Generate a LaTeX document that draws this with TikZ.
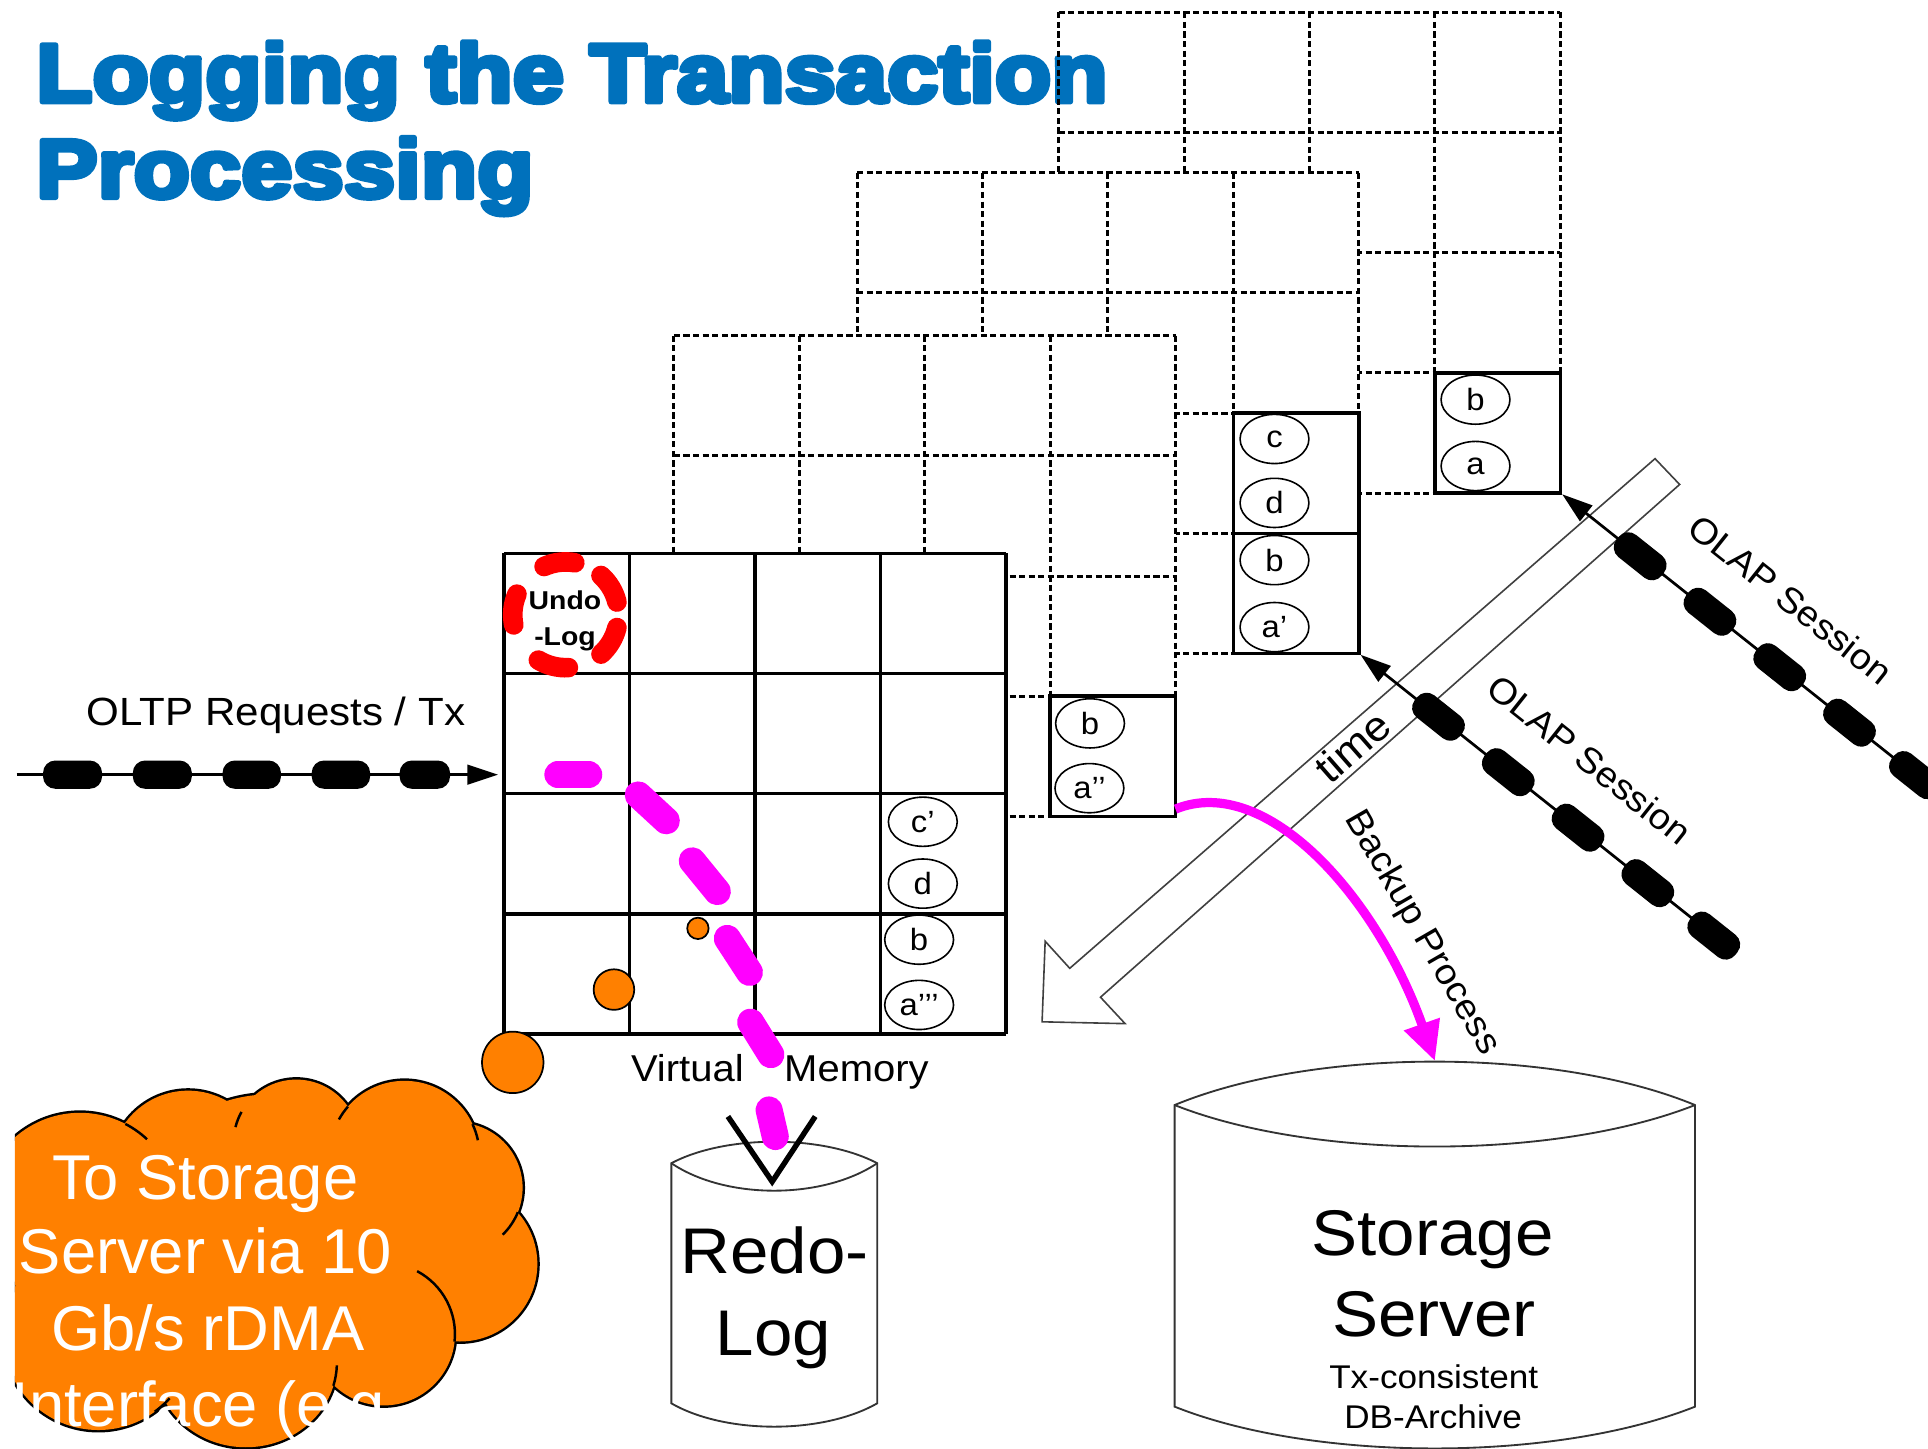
\documentclass[tikz,border=0pt]{standalone}
\usepackage{fontspec}
\setmainfont{Liberation Sans}
\newfontfamily\diag{Liberation Sans}[FakeStretch=1.07]
\newfontfamily\diagb{Liberation Sans Bold}[FakeStretch=1.1]
\newfontfamily\plainf{Liberation Sans}
\newfontfamily\titlef{Liberation Sans Bold}[FakeStretch=1.12]
\newcommand\heavytext[1]{\special{pdf:literal direct 2 Tr 2.2 w 1 j}#1\special{pdf:literal direct 0 Tr}}
\usetikzlibrary{arrows.meta,shapes.geometric}
\definecolor{titleblue}{RGB}{0,113,188}
\definecolor{cloudorange}{RGB}{255,128,0}
\definecolor{mag}{RGB}{255,0,255}
\definecolor{undored}{RGB}{255,0,0}
\newcommand\mygrid[3]{%
  \foreach \k in {0,...,4}{%
    \draw[#3] ({#1+102*\k},#2) -- ({#1+102*\k},{#2+391});
    \draw[#3] (#1,{#2+97.75*\k}) -- ({#1+408},{#2+97.75*\k});
  }%
}
\newcommand\cloudparts[1]{%
  \path[#1] (65,985) circle[radius=80] (153,950) circle[radius=63]
    (241,929) circle[radius=51] (329,940) circle[radius=61]
    (372,966) circle[radius=53] (374,1028) circle[radius=63]
    (312,1085) circle[radius=58] (200,1108) ellipse[x radius=74,y radius=69]
    (80,1085) circle[radius=78] (220,1010) circle[radius=120];%
}
\begin{document}
\begin{tikzpicture}[x=0.5pt,y=-0.5pt,
  dgrid/.style={line width=1.2pt,dash pattern=on 2.5pt off 1.4pt},
  sgrid/.style={line width=1.45pt},
  val/.style={ellipse,draw,line width=0.65pt,minimum width=28pt,minimum height=20pt,inner sep=0pt,font=\diag\fontsize{12.5}{14}\selectfont},
  pill/.style={rectangle,rounded corners=5pt,fill=black,minimum width=23.5pt,minimum height=11.5pt,inner sep=0pt},
  chain/.style={line width=1.1pt,-{Triangle[length=12.5pt,width=8pt]}},
  lbl/.style={inner sep=0pt,font=\diag\fontsize{14.5}{17}\selectfont},
  titletext/.style={inner sep=0pt,text=titleblue,font=\titlef\fontsize{33.5}{39}\selectfont},
  cloudtext/.style={inner sep=0pt,text=white,font=\plainf\fontsize{25.75}{30}\selectfont,anchor=base},
  undodash/.style={undored,line width=8pt,line cap=round},
  magdash/.style={mag,line width=11pt,line cap=round},
  cyl/.style={line width=0.75pt,draw=black!80},
  stub/.style={line width=1pt},
  ball/.style={circle,draw=black,line width=0.7pt,fill=cloudorange,inner sep=0pt}]
\useasboundingbox (0,0) rectangle (1568,1178);
\clip (0,0) rectangle (1568,1178);
\fill[white] (0,0) rectangle (1568,1178);

% title
\node[titletext,anchor=base west] (title1) at (29,82.7) {\heavytext{Logging the Transaction}};
\node[titletext,anchor=base west] (title2) at (29,160.5) {\heavytext{Processing}};

% back grid (snapshot 3)
\mygrid{861}{10}{dgrid}
\draw[sgrid] (1167,303.25) rectangle (1269,401);
\node[val] (g3b) at (1200,325) {b};
\node[val] (g3a) at (1200,379) {a};

% grid 2
\fill[white] (697,140.5) rectangle +(408,391);
\mygrid{697}{140.5}{dgrid}
\draw[sgrid] (1003,336) rectangle (1105,433.75);
\draw[sgrid] (1003,433.75) rectangle (1105,531.5);
\node[val] (g2c) at (1036.5,357) {c};
\node[val] (g2d) at (1036.5,409) {d};
\node[val] (g2b) at (1036.5,455.5) {b};
\node[val] (g2a) at (1036.5,510) {a’};

% grid 1
\fill[white] (548,273) rectangle +(408,391);
\mygrid{548}{273}{dgrid}
\draw[sgrid] (854,566.25) rectangle (956,664);
\node[val] (g1b) at (886.5,588.3) {b};
\node[val] (g1a) at (886,641) {a’’};

% main grid
\fill[white] (410,450) rectangle +(408,391);
\mygrid{410}{450}{sgrid}
\node[val] (mc) at (750.5,668.3) {c’};
\node[val] (md) at (750.5,718.6) {d};
\node[val] (mb) at (747.5,764.2) {b};
\node[val] (ma) at (747.5,817.3) {a’’’};

% undo log
\node[inner sep=0pt,anchor=base,font=\diagb\fontsize{10.5}{12}\selectfont] (undo1) at (459.5,495.5) {Undo};
\node[inner sep=0pt,anchor=base,font=\diagb\fontsize{10.5}{12}\selectfont] (undo2) at (459.5,524.6) {-Log};
\foreach \a in {-97,-31,31,104,-174}
  \draw[undodash] (460,500) ++(\a-17:43) arc[start angle=\a-17,end angle=\a+17,radius=43];

% OLTP chain
\coordinate (oltpS) at (13.5,630);
\coordinate (oltpE) at (405,630);
\draw[chain] (oltpS) -- (oltpE);
\foreach \cx/\w [count=\n] in {59/24,132/24,204.75/23.75,277.25/23.75,345.5/20.5}
  \node[pill,minimum width=\w pt] (tp\n) at (\cx,630) {};
\node[lbl,anchor=base,font=\diag\fontsize{16}{19}\selectfont] (oltplbl) at (224.5,589.7) {OLTP Requests / Tx};

% time arrow
\draw[line width=0.65pt,draw=black!75,fill=white] (1346,373) -- (1366,394) -- (895,811) -- (915,832.5) -- (847.5,831) -- (850,765.5) -- (870,787.5) -- cycle;
\node[lbl,rotate=41.2,font=\diag\fontsize{17}{19}\selectfont] (timelbl) at (1100,607) {time};

% OLAP sessions
\coordinate (olapAtip) at (1270.5,402);
\coordinate (olapAstart) at ({1270.5+420*0.7827},{402+420*0.6223});
\draw[chain] (olapAstart) -- (olapAtip);
\foreach \d [count=\n] in {81,153.5,226,298.5,367}
  \node[pill,rotate=-38.5] (pa\n) at ({1270.5+\d*0.7827},{402+\d*0.6223}) {};
\coordinate (olapBtip) at (1106.5,532.5);
\coordinate (olapBstart) at ({1106.5+367*0.7827},{532.5+367*0.6223});
\draw[chain] (olapBstart) -- (olapBtip);
\foreach \d [count=\n] in {81,153.5,226,298.5,367}
  \node[pill,rotate=-38.5] (pb\n) at ({1106.5+\d*0.7827},{532.5+\d*0.6223}) {};
\node[lbl,rotate=-38.5] (olapAlbl) at (1456.3,487.4) {OLAP Session};
\node[lbl,rotate=-38.5] (olapBlbl) at (1292.8,617.9) {OLAP Session};

% storage server
\draw[cyl,fill=white] (955.3,898.7) .. controls (1069,851.6) and (1264.5,851.6) .. (1378.5,898.7) -- (1378.5,1144) .. controls (1264.5,1189.3) and (1069,1189.3) .. (955.3,1144) -- cycle;
\draw[cyl] (955.3,898.7) .. controls (1069,943.7) and (1264.5,943.7) .. (1378.5,898.7);
\coordinate (ssTop) at (1167,863);
\node[inner sep=0pt,anchor=base,font=\diag\fontsize{26.25}{30}\selectfont] (ss1) at (1165,1020.7) {Storage};
\node[inner sep=0pt,anchor=base,font=\diag\fontsize{26.25}{30}\selectfont] (ss2) at (1166,1087) {Server};
\node[inner sep=0pt,anchor=base,font=\diag\fontsize{13.35}{16}\selectfont] (ss3) at (1166,1129) {Tx-consistent};
\node[inner sep=0pt,anchor=base,font=\diag\fontsize{13.35}{16}\selectfont] (ss4) at (1165.5,1161.6) {DB-Archive};

% backup process
\coordinate (bk0) at (956,658);
\draw[mag,line width=3.75pt,-{Triangle[length=16pt,width=14.5pt]}] (bk0) .. controls (1030,628) and (1120,730) .. (ssTop);
\node[lbl,rotate=-60] (bklbl) at (1156.2,758.7) {Backup Process};

% redo log
\draw[cyl,fill=white] (546,946) .. controls (590,922.7) and (669,922.7) .. (713.4,946) -- (713.4,1141.3) .. controls (669,1166.6) and (590,1166.6) .. (546,1141.3) -- cycle;
\draw[cyl] (546,946) .. controls (590,975.8) and (669,975.8) .. (713.4,946);
\node[inner sep=0pt,anchor=base,font=\diag\fontsize{26.25}{30}\selectfont] (redo1) at (630,1035.6) {Redo-};
\node[inner sep=0pt,anchor=base,font=\diag\fontsize{26.25}{30}\selectfont] (redo2) at (629,1102) {Log};
\node[inner sep=0pt,anchor=base,font=\diag\fontsize{15.2}{18}\selectfont] (vm1) at (559,879.7) {Virtual};
\node[inner sep=0pt,anchor=base,font=\diag\fontsize{15.2}{18}\selectfont] (vm2) at (696.5,879.7) {Memory};

% redo arrow head and magenta log stream
\draw[line width=2.2pt,miter limit=10] (592,908) -- (628,961) -- (663,908);
\foreach \xa/\ya/\xb/\yb in {453.7/630/478.8/630, 519.1/646.5/541.9/667.5, 563/700.1/583.4/725.1, 591.5/763.2/609.5/790.8, 610.5/831.3/626.9/857.7, 625.5/902.7/630.5/924.3}
  \draw[magdash] (\xa,\ya) -- (\xb,\yb);

% thought bubbles
\node[ball,minimum size=8.7pt] (bub1) at (567.6,755) {};
\node[ball,minimum size=16.5pt] (bub2) at (499.3,804.8) {};
\node[ball,minimum size=25pt] (bub3) at (417,864) {};

% cloud
\begin{scope}
  \clip (12,850) rectangle (480,1178);
  \cloudparts{draw=black,line width=2pt}
  \cloudparts{fill=cloudorange}
  \draw[stub] (65,985) ++(-62.5:80) arc[start angle=-62.5,end angle=-47,radius=80];
  \draw[stub] (241,929) ++(-151:51) arc[start angle=-151,end angle=-166,radius=51];
  \draw[stub] (329,940) ++(-139:61) arc[start angle=-139,end angle=-151,radius=61];
  \draw[stub] (329,940) ++(-25:61) arc[start angle=-25,end angle=-12,radius=61];
  \draw[stub] (372,966) ++(22:53) arc[start angle=22,end angle=46,radius=53];
  \draw[stub] (312,1085) ++(6:58) arc[start angle=6,end angle=-62,radius=58];
  \draw[stub] (200,1108) ++(16:74 and 69) arc[start angle=16,end angle=2,x radius=74,y radius=69];
  \draw[stub] (80,1085) ++(42:78) arc[start angle=42,end angle=54,radius=78];
\end{scope}
\node[cloudtext] (cl1) at (167,975.4) {To Storage};
\node[cloudtext] (cl2) at (167,1035.6) {Server via 10};
\node[cloudtext] (cl3) at (169,1098) {Gb/s rDMA};
\node[cloudtext,anchor=base west] (cl4) at (9,1160) {Interface (e.g.};
\end{tikzpicture}
\end{document}
